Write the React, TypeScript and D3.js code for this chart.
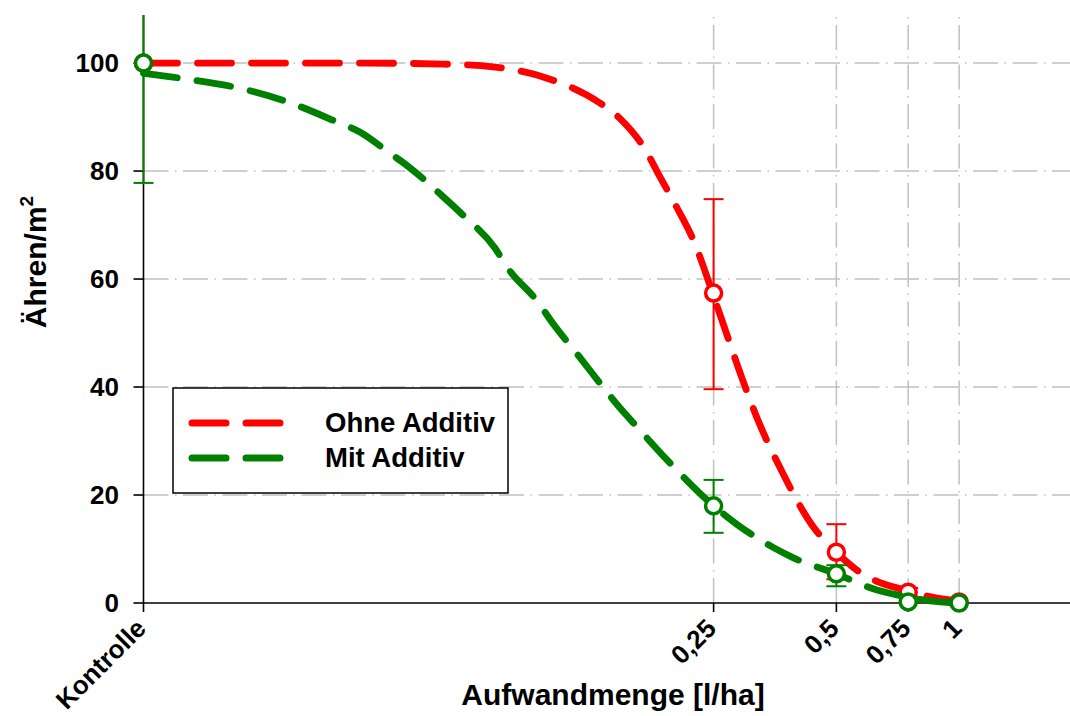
import React from "react";
import * as d3 from "d3";

// Application rates (l/ha); the control is placed at 0.01 on the log axis
const doses = [0.01, 0.25, 0.5, 0.75, 1];
const doseLabels = ["Kontrolle", "0,25", "0,5", "0,75", "1"];
const yTicks = [0, 20, 40, 60, 80, 100];

// Measured means with error bar limits
const ohneMean = [100, 57.4, 9.4, 2.0, 0.2];
const ohneLow = [100, 39.6, 4.4, 1.2, 0.2];
const ohneHigh = [100, 74.8, 14.6, 2.8, 0.2];

const mitMean = [100, 18.0, 5.4, 0.2, 0.0];
const mitLow = [77.8, 13.0, 3.1, 0.2, 0.0];
const mitHigh = [122.2, 22.8, 7.0, 0.2, 0.0];

// Fitted dose-response curves (dose, value)
const ohneCurveDose = [0.01, 0.034, 0.0543, 0.072, 0.0976, 0.1316, 0.147, 0.172, 0.182, 0.203, 0.223, 0.252, 0.267, 0.287, 0.321, 0.368, 0.436, 0.5, 0.571, 0.633, 0.704, 0.883, 1.06];
const ohneCurveVal = [100, 100, 99.8, 99.3, 97.2, 92.6, 89.8, 83.3, 79.8, 73.3, 67.2, 56.1, 50.6, 43.7, 33.9, 24.3, 14.4, 9.4, 5.7, 3.9, 2.8, 0.9, 0.2];

const mitCurveDose = [0.01, 0.0123, 0.0166, 0.022, 0.0298, 0.034, 0.0402, 0.0445, 0.054, 0.0604, 0.0728, 0.0779, 0.0928, 0.1004, 0.1163, 0.1258, 0.1474, 0.1623, 0.1922, 0.25, 0.287, 0.348, 0.389, 0.5, 0.629, 0.704, 0.898, 1.0];
const mitCurveVal = [98.1, 97.2, 95.6, 93.1, 89.1, 87.2, 83.3, 80.9, 75.4, 72.0, 65.7, 62.2, 55.7, 52.0, 45.9, 42.6, 36.1, 32.6, 26.5, 18.0, 14.4, 10.4, 8.5, 5.4, 2.4, 1.5, 0.2, 0.0];

const seriesNames = ["Ohne Additiv", "Mit Additiv"];
const RED = "#ff0000";
const GREEN = "#008000";

const W = 1070;
const H = 716;
const FONT = "'Liberation Sans', Arial, Helvetica, sans-serif";

export default function App() {
  const x = d3.scaleLog().domain([0.01, 1.87]).range([143.5, 1070]);
  const y = d3.scaleLinear().domain([0, 108.9]).range([603, 15]);

  const line = d3
    .line<[number, number]>()
    .x((d) => x(d[0]))
    .y((d) => y(d[1]))
    .curve(d3.curveMonotoneX);

  const ohneCurve = ohneCurveDose.map((d, i) => [d, ohneCurveVal[i]] as [number, number]);
  const mitCurve = mitCurveDose.map((d, i) => [d, mitCurveVal[i]] as [number, number]);

  const gridDash = "25 6.5 1.5 6.5";
  const curveDash = "34 20";

  const x0 = x.range()[0];
  const x1 = x.range()[1];
  const yBottom = y(0);
  const yTop = y.range()[1];

  const errorBars = (low: number[], high: number[], color: string) =>
    doses.map((d, i) =>
      high[i] - low[i] > 0 ? (
        <g key={i} stroke={color} strokeWidth={2} fill="none">
          <line x1={x(d)} x2={x(d)} y1={y(low[i])} y2={y(high[i])} />
          <line x1={x(d) - 10} x2={x(d) + 10} y1={y(low[i])} y2={y(low[i])} />
          <line x1={x(d) - 10} x2={x(d) + 10} y1={y(high[i])} y2={y(high[i])} />
        </g>
      ) : null
    );

  const markers = (mean: number[], color: string) =>
    doses.map((d, i) => (
      <circle key={i} cx={x(d)} cy={y(mean[i])} r={8} fill="#fff" stroke={color} strokeWidth={3.5} />
    ));

  return (
    <svg
      width={W}
      height={H}
      style={{ position: "absolute", left: 0, top: 0, display: "block", background: "#fff" }}
      fontFamily={FONT}
    >
      <defs>
        <clipPath id="plotClip">
          <rect x={0} y={yTop} width={W} height={H - yTop} />
        </clipPath>
      </defs>

      {/* grid */}
      <g stroke="#c0c0c0" strokeWidth={1.5} strokeDasharray={gridDash} fill="none">
        {yTicks
          .filter((t) => t > 0)
          .map((t) => (
            <path key={"h" + t} d={`M${x0},${y(t)}H${x1}`} />
          ))}
        {doses.slice(1).map((d) => (
          <path key={"v" + d} d={`M${x(d)},${yBottom}V${yTop}`} />
        ))}
      </g>

      {/* axes */}
      <g stroke="#000" strokeWidth={1.6} fill="none">
        <path d={`M${x0},${yTop}V${yBottom}`} />
        <path d={`M${x0},${yBottom}H${x1}`} />
        {yTicks.map((t) => (
          <path key={"yt" + t} d={`M${x0 - 10},${y(t)}H${x0}`} />
        ))}
        {doses.map((d) => (
          <path key={"xt" + d} d={`M${x(d)},${yBottom}V${yBottom + 9}`} />
        ))}
      </g>

      <g fontSize={26} fontWeight="bold" fill="#000">
        {yTicks.map((t) => (
          <text key={"yl" + t} x={119} y={y(t)} dy="0.36em" textAnchor="end">
            {t}
          </text>
        ))}
        {doses.map((d, i) => (
          <text
            key={"xl" + d}
            transform={`translate(${x(d) + 4},${yBottom + 27}) rotate(-45)`}
            textAnchor="end"
          >
            {doseLabels[i]}
          </text>
        ))}
      </g>

      {/* axis titles */}
      <text
        transform={`translate(46,262) rotate(-90)`}
        textAnchor="middle"
        fontSize={30}
        fontWeight="bold"
      >
        Ähren/m
        <tspan fontSize={19} dy={-13}>
          2
        </tspan>
      </text>
      <text x={613} y={705} textAnchor="middle" fontSize={30} fontWeight="bold">
        Aufwandmenge [l/ha]
      </text>

      {/* series: Ohne Additiv */}
      <path
        d={line(ohneCurve) || ""}
        fill="none"
        stroke={RED}
        strokeWidth={6.8}
        strokeLinecap="round"
        strokeDasharray={curveDash}
      />
      <g clipPath="url(#plotClip)">{errorBars(ohneLow, ohneHigh, RED)}</g>
      {markers(ohneMean, RED)}

      {/* series: Mit Additiv */}
      <path
        d={line(mitCurve) || ""}
        fill="none"
        stroke={GREEN}
        strokeWidth={6.8}
        strokeLinecap="round"
        strokeDasharray={curveDash}
      />
      <g clipPath="url(#plotClip)">{errorBars(mitLow, mitHigh, GREEN)}</g>
      {markers(mitMean, GREEN)}

      {/* legend */}
      <g>
        <rect x={173} y={388} width={335} height={105} fill="#fff" stroke="#000" strokeWidth={1.5} />
        {[RED, GREEN].map((c, i) => (
          <g key={c}>
            <path
              d={`M192,${423 + i * 35}H280`}
              stroke={c}
              strokeWidth={7}
              strokeLinecap="round"
              strokeDasharray={curveDash}
              fill="none"
            />
            <text x={325} y={432 + i * 35} fontSize={27.5} fontWeight="bold">
              {seriesNames[i]}
            </text>
          </g>
        ))}
      </g>
    </svg>
  );
}
